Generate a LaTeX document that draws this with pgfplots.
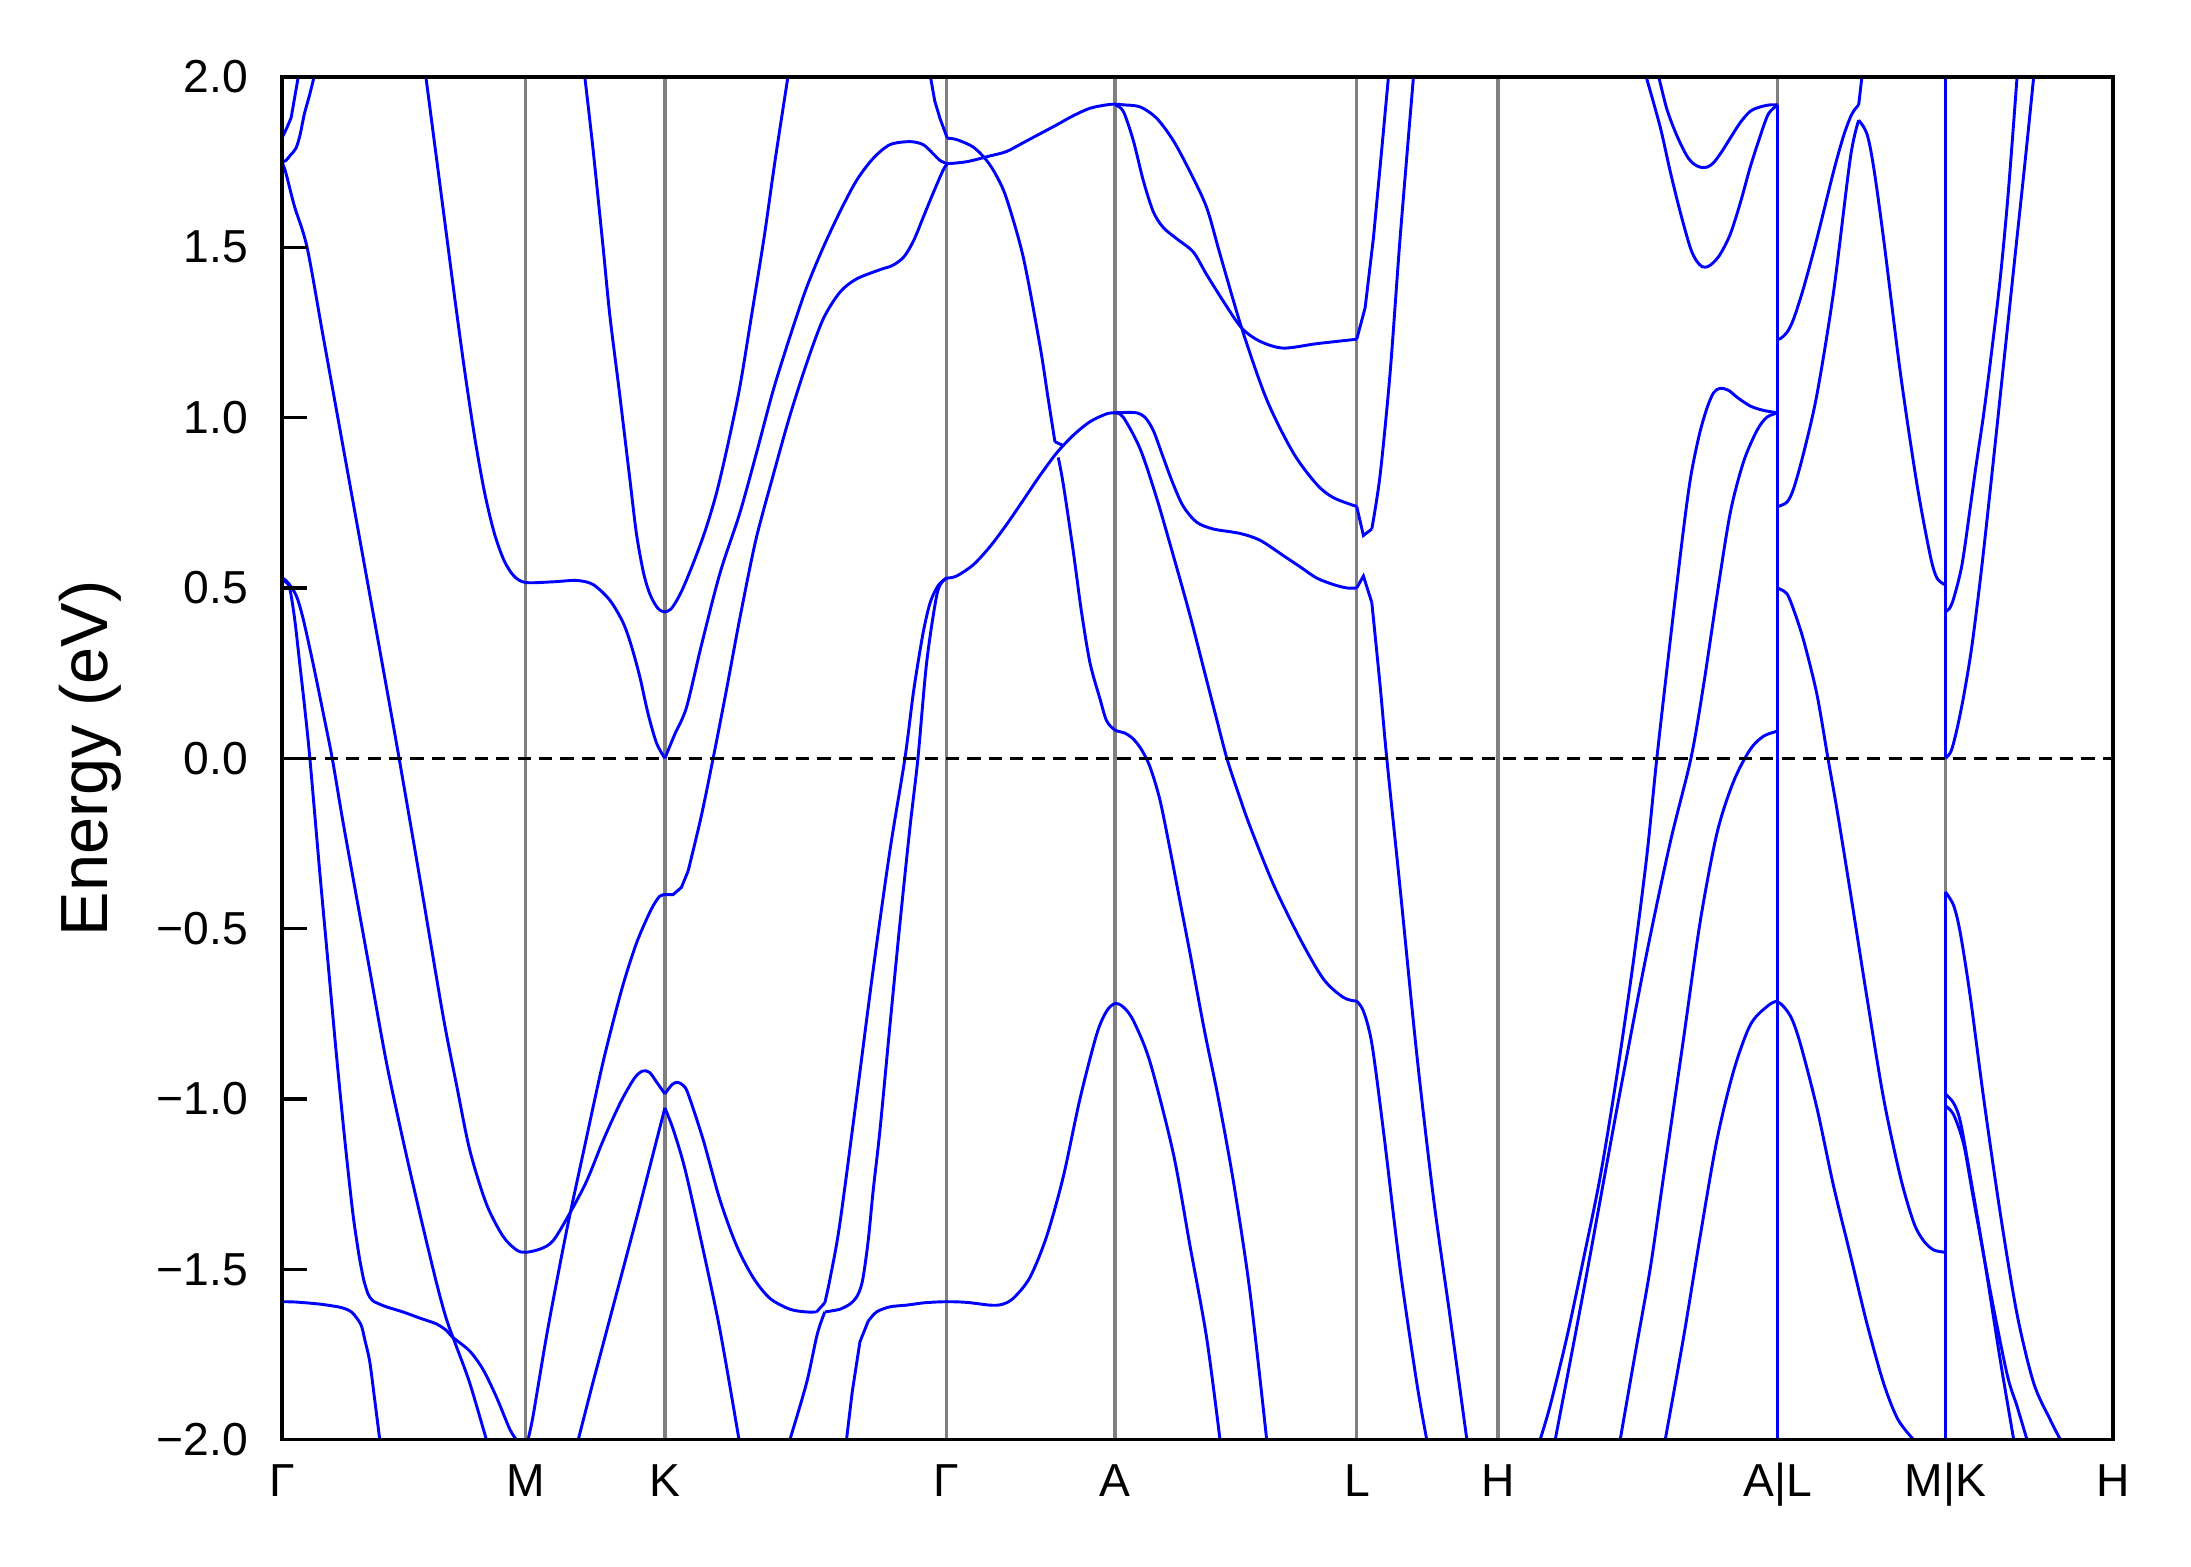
\documentclass[border=0pt]{standalone}
\usepackage{fontspec}
\setmainfont{Liberation Sans}
\usepackage{pgfplots}
\pgfplotsset{compat=1.18}
\usetikzlibrary{calc}
\definecolor{vgray}{RGB}{128,128,128}
\pgfplotsset{
  bs/.style={blue, line width=0.6pt, smooth, tension=0.5, mark=none},
  bl/.style={blue, line width=0.6pt, sharp plot, mark=none},
  vl/.style={vgray, line width=0.65pt, mark=none},
}
\begin{document}
\begin{tikzpicture}
\begin{axis}[name=ax, width=376.1pt, height=279.9pt, scale only axis,
  xmin=0, xmax=1310, ymin=-2, ymax=2,
  xtick={0,174.4,274,475.5,596,769,870,1070.2,1190,1310},
  xticklabels={Γ,M,K,Γ,A,L,H,A|L,M|K,H},
  ytick={-2,-1.5,-1,-0.5,0,0.5,1,1.5,2},
  yticklabels={−2.0,−1.5,−1.0,−0.5,0.0,0.5,1.0,1.5,2.0},
  ytick pos=left, xtick pos=bottom,
  tick align=inside, major tick length=5.1pt,
  xtick style={draw=none},
  ytick style={black, line width=0.7pt},
  axis line style={black, line width=0.7pt},
  tick label style={font=\fontsize{9.5}{11}\selectfont},
  yticklabel style={xshift=-3.4pt},
  xticklabel style={text height=6.9pt, text depth=2.2pt, yshift=-1.3pt},
  ylabel={Energy (eV)},
  ylabel style={at={(axis description cs:-0.1048,0.5)}, anchor=center, font=\fontsize{13.7}{16}\selectfont},
  axis on top, clip=true,
]
% high-symmetry lines
\addplot[vl] coordinates {(174.4,-2) (174.4,2)};
\addplot[vl] coordinates {(274,-2) (274,2)};
\addplot[vl] coordinates {(475.5,-2) (475.5,2)};
\addplot[vl] coordinates {(596,-2) (596,2)};
\addplot[vl] coordinates {(769,-2) (769,2)};
\addplot[vl] coordinates {(870,-2) (870,2)};
\addplot[vl] coordinates {(1070.2,-2) (1070.2,2)};
\addplot[vl] coordinates {(1190,-2) (1190,2)};

% Gamma - M - K - Gamma
\addplot[bl] coordinates {(0,1.82) (3.5,1.85) (6.6,1.88) (11.7,2.0)};
\addplot[bs] coordinates {(0,1.75) (3,1.755) (6,1.77) (10,1.79) (13,1.83) (16,1.89) (20,1.95) (23,2.0)};
\addplot[bs] coordinates {(0,1.75) (2,1.73) (4,1.70) (9,1.62) (18,1.5) (29,1.25) (40,1.0) (51,0.75) (62,0.5) (73,0.25) (83,0.02) (98.6,-0.351) (115.3,-0.756) (125,-0.96) (134.4,-1.15) (146.3,-1.308) (158.2,-1.403) (167.8,-1.443) (174.4,-1.45) (185,-1.44) (194,-1.416) (206,-1.335) (218,-1.241) (230,-1.12) (242,-1.012) (252,-0.94) (258,-0.918) (263,-0.922) (268,-0.95) (274,-0.985)};
\addplot[bs] coordinates {(274,-0.985) (279,-0.958) (283,-0.951) (287,-0.96) (290.6,-0.985) (301.4,-1.12) (313.3,-1.295) (325.2,-1.43) (337.1,-1.524) (349.1,-1.585) (363.4,-1.617) (375,-1.625) (382.5,-1.625)};
\addplot[bl] coordinates {(382.5,-1.625) (388.4,-1.598)};
\addplot[bs] coordinates {(388.4,-1.598) (392,-1.53) (399,-1.37) (411,-1.0) (423,-0.62) (435,-0.27) (445.7,0.0) (452,0.2) (458.8,0.37) (464,0.46) (470,0.51) (476,0.529)};
\addplot[bs] coordinates {(363.4,-2.0) (375.3,-1.834) (383,-1.69) (388.4,-1.625)};
\addplot[bs] coordinates {(388.4,-1.625) (399.2,-1.617) (407,-1.60) (412,-1.575) (415.5,-1.53) (419.4,-1.417) (423,-1.268) (427.8,-1.093) (435,-0.783) (442.1,-0.486) (449.3,-0.203) (455,0.0) (461.2,0.28) (468.4,0.477) (473.1,0.522) (476,0.529)};
\addplot[bl] coordinates {(403.9,-2.0) (408,-1.86) (413.5,-1.713) (419.4,-1.652)};
\addplot[bs] coordinates {(419.4,-1.652) (425.4,-1.625) (435,-1.61) (446.9,-1.605) (460,-1.598) (475.5,-1.595) (490,-1.597) (506.5,-1.605) (515,-1.603) (523.2,-1.585) (535.1,-1.524) (547.1,-1.403) (559,-1.228) (570.9,-1.0) (582.9,-0.81) (590,-0.742) (596,-0.72) (601.9,-0.73) (609.1,-0.77) (621,-0.891) (637.7,-1.16) (649.6,-1.43) (661.5,-1.70) (671.1,-2.0)};
\addplot[bs] coordinates {(176,-2.0) (179.7,-1.93) (190,-1.68) (203.5,-1.39) (216,-1.15) (229.8,-0.891) (243,-0.68) (253,-0.55) (260.8,-0.473) (266,-0.43) (270.3,-0.405) (274,-0.40)};
\addplot[bl] coordinates {(274,-0.40) (279.9,-0.40) (285.8,-0.379) (290.6,-0.331)};
\addplot[bs] coordinates {(290.6,-0.331) (300,-0.17) (308.5,0.0) (318,0.2) (327.6,0.411) (339,0.64) (351.4,0.83) (363,1.0) (375.3,1.158) (387.2,1.289) (399.2,1.368) (411.1,1.407) (427.8,1.434) (437,1.447) (445,1.472) (452,1.52) (459,1.59) (466,1.66) (473,1.726) (476,1.745)};
\addplot[bs] coordinates {(274,0.0) (281,0.07) (289.4,0.149) (300,0.33) (313.3,0.542) (327.6,0.72) (339.5,0.896) (351.4,1.079) (363.4,1.237) (375.3,1.381) (387.2,1.499) (399.2,1.604) (411.1,1.696) (423,1.761) (435,1.801) (449.3,1.81) (458.8,1.801) (466,1.774) (470.7,1.755) (476,1.745)};
\addplot[bs] coordinates {(103,2.0) (110,1.78) (117,1.56) (124,1.34) (131,1.13) (138,0.94) (145,0.78) (152,0.66) (159,0.58) (166,0.535) (174.4,0.516) (194,0.518) (210.7,0.522) (222.6,0.51) (234.6,0.464) (244.1,0.398) (250,0.33) (256,0.24) (262,0.13) (268,0.045) (274,0.0)};
\addplot[bs] coordinates {(216.7,2.0) (222.6,1.787) (229.8,1.499) (234.6,1.3) (241.7,1.066) (248.9,0.82) (253.6,0.66) (258.4,0.55) (262.5,0.49) (266.5,0.455) (270,0.436) (274,0.43) (278,0.437) (282,0.46) (287,0.5) (295,0.58) (303,0.67) (311,0.78) (319,0.92) (327.6,1.09) (336,1.3) (345,1.53) (353,1.76) (362,2.0)};
\addplot[bs] coordinates {(0,0.53) (2,0.52) (5.5,0.50) (9.1,0.41) (12.7,0.28) (16.3,0.149) (20,0.0) (27,-0.33) (33,-0.6) (39,-0.87) (45,-1.12) (50.9,-1.34) (55.6,-1.47)};
\addplot[bs] coordinates {(55.6,-1.47) (58.5,-1.53) (61.6,-1.572) (64.5,-1.59) (67.6,-1.598) (74.7,-1.61) (86.6,-1.625) (98.6,-1.643) (110.5,-1.66) (117.7,-1.679)};
\addplot[bs] coordinates {(117.7,-1.679) (122.4,-1.70) (134.4,-1.74) (143.9,-1.794) (153.5,-1.875) (163,-1.969) (167.8,-2.0)};
\addplot[bs] coordinates {(0,0.53) (4.3,0.516) (10.3,0.477) (15.1,0.411) (22.2,0.28) (29.4,0.136) (36,0.0) (43,-0.17) (50.9,-0.351) (62.8,-0.621) (74.7,-0.891) (86.6,-1.12) (98.6,-1.335) (110.5,-1.538) (117.7,-1.646) (124.8,-1.726) (134.4,-1.834) (146.3,-2.0)};
\addplot[bs] coordinates {(0,-1.595) (10,-1.596) (27,-1.602) (40,-1.61) (46.1,-1.617) (50,-1.626) (53,-1.64) (56.8,-1.665) (59.5,-1.71) (62.8,-1.77) (66,-1.87) (70,-2.0)};
\addplot[bl] coordinates {(274,-1.026) (265,-1.17) (255,-1.33) (244,-1.5) (233,-1.67) (222,-1.84) (212,-2.0)};
\addplot[bs] coordinates {(274,-1.026) (280,-1.09) (288,-1.2) (298,-1.38) (313,-1.67) (327,-2.0)};

% Gamma - A - L - H
\addplot[bl] coordinates {(464,2.0) (467,1.93) (470.7,1.879) (476,1.82)};
\addplot[bs] coordinates {(476,1.82) (482.7,1.816) (494.6,1.794) (504.1,1.755) (511.3,1.709) (518.4,1.643) (530.4,1.47) (542.3,1.211) (548,1.06) (553,0.929)};
\addplot[bl] coordinates {(553,0.929) (559,0.918)};
\addplot[bs] coordinates {(555.4,0.883) (559,0.804) (566.1,0.608) (572,0.43) (578.1,0.28) (585.2,0.175) (590,0.11) (596,0.083) (603,0.074) (609,0.057) (615,0.025) (621,-0.025) (628,-0.12) (635,-0.26) (642,-0.41) (650,-0.58) (660,-0.8) (670,-1.0) (681,-1.25) (692.5,-1.565) (704.5,-2.0)};
\addplot[bs] coordinates {(476,0.529) (482.7,0.535) (494.6,0.568) (506.5,0.621) (518.4,0.686) (530.4,0.758) (542.3,0.83) (554.2,0.896) (566.1,0.948) (578.1,0.988) (590,1.011) (596,1.014) (601.9,1.015) (611.5,1.014) (617.4,1.001) (623.4,0.962) (630.5,0.883) (637.7,0.804) (644.9,0.739) (654.4,0.693) (666.3,0.673) (685.4,0.66) (699.7,0.64) (716.4,0.595) (728.4,0.562) (740.3,0.529) (752.2,0.51) (761.8,0.5) (768.9,0.5)};
\addplot[bl] coordinates {(768.9,0.5) (773.7,0.535) (779.7,0.457)};
\addplot[bs] coordinates {(779.7,0.457) (785.6,0.215) (790.4,0.0) (799.9,-0.38) (811.9,-0.87) (823.8,-1.29) (835.7,-1.64) (847.7,-2.0)};
\addplot[bs] coordinates {(596,1.014) (601.9,1.001) (613.9,0.909) (625.7,0.765) (637.7,0.595) (649.6,0.42) (661.5,0.23) (669,0.11) (676,0.0) (684,-0.10) (692.6,-0.20) (709.3,-0.37) (728.4,-0.53) (745.1,-0.648) (759.4,-0.702) (768.9,-0.713)};
\addplot[bs] coordinates {(768.9,-0.713) (773.7,-0.742) (779.7,-0.837) (788,-1.093) (799.9,-1.497) (811.9,-1.834) (819,-2.0)};
\addplot[bs] coordinates {(475.5,1.745) (489.8,1.751) (506.5,1.768) (518.4,1.781) (530.4,1.807) (542.3,1.833) (554.2,1.859) (566.1,1.886) (578.1,1.908) (590,1.918) (596,1.92) (601.9,1.918) (613.9,1.912) (625.7,1.879) (637.7,1.813) (649.6,1.722) (661.5,1.617) (671.1,1.48) (686.6,1.263) (704.5,1.053) (723.6,0.896) (740.3,0.804) (752.2,0.765) (768.9,0.739)};
\addplot[bl] coordinates {(768.9,0.739) (773.7,0.654) (779.7,0.673)};
\addplot[bs] coordinates {(779.7,0.673) (785.6,0.83) (792.8,1.132) (799.9,1.525) (809.5,2.0)};
\addplot[bs] coordinates {(596,1.918) (601.9,1.899) (609.1,1.813) (616.2,1.696) (623.4,1.604) (630.5,1.558) (640.1,1.525) (652,1.486) (661.5,1.42) (673.4,1.342) (686.6,1.263) (699.7,1.224) (716.4,1.204) (740.3,1.217) (768.9,1.23)};
\addplot[bl] coordinates {(768.9,1.23) (774.9,1.322) (780.8,1.525) (786.8,1.787) (791.6,2.0)};

% H - A|L
\addplot[bs] coordinates {(900.1,-2.0) (907.3,-1.90) (919.2,-1.70) (931.1,-1.47) (943.1,-1.228) (955,-0.931) (966.9,-0.594) (976.5,-0.284) (983.6,0.0) (993.2,0.346) (1002.7,0.673) (1008,0.83) (1014,0.95) (1019.4,1.027) (1024.2,1.073) (1028.9,1.086) (1034.9,1.08) (1040.9,1.06) (1050.4,1.034) (1060,1.021) (1070.2,1.014)};
\addplot[bs] coordinates {(910.9,-2.0) (931.1,-1.565) (955,-1.03) (975,-0.6) (993,-0.25) (1008,0.0) (1017,0.214) (1026.6,0.477) (1036.1,0.72) (1045.6,0.87) (1055.2,0.962) (1062.3,1.001) (1070.2,1.014)};
\addplot[bs] coordinates {(957.4,-2.0) (968,-1.75) (978.9,-1.497) (988.4,-1.228) (1002.7,-0.823) (1014.6,-0.48) (1026.6,-0.22) (1038.5,-0.068) (1050.4,0.026) (1060,0.065) (1070.2,0.08)};
\addplot[bs] coordinates {(989.6,-2.0) (1002.7,-1.70) (1014.6,-1.403) (1026.6,-1.12) (1038.5,-0.918) (1050.4,-0.783) (1062.3,-0.729) (1070.2,-0.715) (1079.1,-0.756) (1086.2,-0.837) (1098.1,-1.026) (1110,-1.255) (1122,-1.457) (1133.9,-1.659) (1145.8,-1.834) (1156,-1.94) (1167.3,-2.0)};
\addplot[bs] coordinates {(976,2.0) (986,1.853) (993.2,1.722) (1000.3,1.604) (1007.5,1.499) (1012,1.46) (1016,1.443) (1020,1.443) (1024,1.455) (1029,1.48) (1036.1,1.538) (1043.3,1.63) (1050.4,1.735) (1057.6,1.827) (1063.5,1.892) (1070.2,1.918)};
\addplot[bs] coordinates {(985,2.0) (990.8,1.905) (998,1.827) (1005.1,1.768) (1009.9,1.745) (1014.6,1.735) (1019.4,1.735) (1024.2,1.748) (1030.1,1.781) (1036.1,1.82) (1043.3,1.866) (1050.4,1.899) (1057.6,1.912) (1064.7,1.918) (1070.2,1.918)};

% A|L - M|K - H
\addplot[bs] coordinates {(1070.2,1.23) (1072,1.232) (1076.7,1.25) (1081.4,1.289) (1088.6,1.381) (1098.1,1.525) (1110,1.722) (1117.2,1.827) (1123,1.89) (1128,1.918)};
\addplot[bl] coordinates {(1128,1.918) (1130.3,2.0)};
\addplot[bs] coordinates {(1070.2,0.739) (1076.7,0.752) (1081.4,0.791) (1088.6,0.896) (1098.1,1.067) (1110,1.368) (1122,1.761) (1128,1.873)};
\addplot[bs] coordinates {(1128,1.873) (1133.9,1.833) (1138.7,1.735) (1145.8,1.525) (1157.8,1.132) (1169.7,0.804) (1179.2,0.595) (1184,0.529) (1190,0.509)};
\addplot[bs] coordinates {(1070.2,0.50) (1071.9,0.496) (1076.7,0.483) (1081.4,0.437) (1088.6,0.346) (1098.1,0.188) (1106,0.0) (1112.4,-0.149) (1122,-0.392) (1133.9,-0.702) (1145.8,-0.998) (1157.8,-1.228) (1167.3,-1.362) (1174.4,-1.416) (1181.6,-1.443) (1190,-1.45)};
\addplot[bs] coordinates {(1190,0.43) (1193,0.44) (1196,0.47) (1201.9,0.568) (1207.9,0.739) (1212,0.86) (1217.4,1.01) (1223,1.19) (1229.3,1.41) (1235,1.66) (1241.3,2.0)};
\addplot[bs] coordinates {(1190,0.0) (1194,0.02) (1198,0.08) (1203,0.18) (1209,0.33) (1216,0.56) (1224,0.86) (1232,1.17) (1240,1.48) (1247,1.75) (1253.2,2.0)};
\addplot[bs] coordinates {(1190,-0.392) (1195.9,-0.432) (1200.7,-0.513) (1207.9,-0.702) (1217.4,-0.998) (1229.3,-1.336) (1241.3,-1.632) (1253.2,-1.834) (1265.1,-1.942) (1272.3,-2.0)};
\addplot[bs] coordinates {(1190,-0.985) (1195.9,-1.012) (1200.7,-1.066) (1207.9,-1.228) (1217.4,-1.457) (1229.3,-1.767) (1238.9,-2.0)};
\addplot[bs] coordinates {(1190,-1.02) (1195.9,-1.046) (1203.1,-1.133) (1210.2,-1.295) (1222.2,-1.565) (1234.1,-1.807) (1241.3,-1.902) (1248.4,-2.0)};

% discontinuity jumps drawn in blue
\addplot[bl] coordinates {(1070.2,-2) (1070.2,1.918)};
\addplot[bl] coordinates {(1190,0) (1190,2)};
\addplot[bl] coordinates {(1190,-2) (1190,-0.392)};

% Fermi level
\addplot[black, line width=0.6pt, dash pattern=on 2.7pt off 1.7pt] coordinates {(0,0) (1310,0)};
\end{axis}
\pgfresetboundingbox
\path[use as bounding box] ($(ax.south west)+(-57.9pt,-26.1pt)$) rectangle ($(ax.north east)+(16pt,15.8pt)$);
\end{tikzpicture}
\end{document}
